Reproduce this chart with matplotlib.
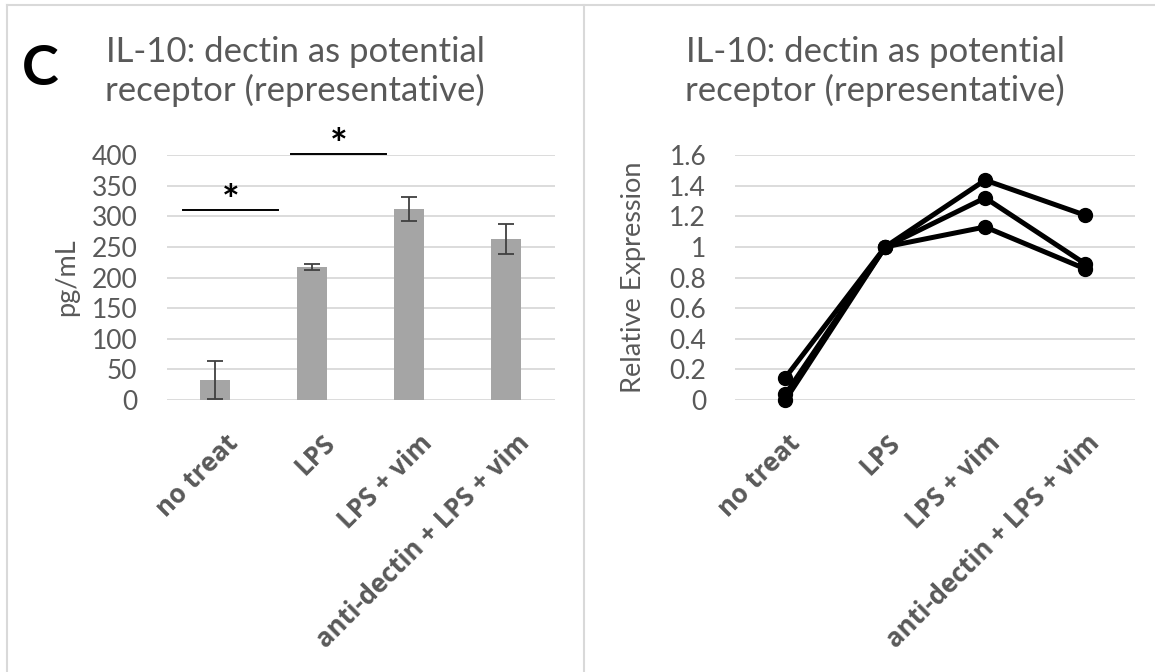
import matplotlib
matplotlib.use("Agg")
import matplotlib.pyplot as plt
import matplotlib.transforms as mtransforms
from matplotlib.lines import Line2D

# data
categories = ["no treat", "LPS", "LPS + vim", "anti-dectin + LPS + vim"]
il10_pgml = [32, 217, 312, 263]
il10_err = [31, 5, 20, 24]
sig_pairs = [(-0.33, 0.65, 311), (0.78, 1.76, 402)]   # x0, x1, y of significance bars

rel_expr_1 = [0.146, 1.0, 1.436, 1.207]
rel_expr_2 = [0.037, 1.0, 1.32, 0.89]
rel_expr_3 = [0.0, 1.0, 1.13, 0.857]

title_lines = ["IL-10: dectin as potential", "receptor (representative)"]

W, H = 1155, 672
plt.rcParams['font.family'] = ['Lato', 'DejaVu Sans']
GRAY_TXT = '#595959'
GRID = '#d9d9d9'

fig = plt.figure(figsize=(W / 100, H / 100), dpi=100)


def px_rect(x0, y0, x1, y1):
    return [x0 / W, 1 - y1 / H, (x1 - x0) / W, (y1 - y0) / H]


def style_axes(ax, ylim, yticks, ytl, ylabel, label_x, lab_dx):
    ax.set_xlim(-0.5, 3.5)
    ax.set_ylim(*ylim)
    ax.set_yticks(yticks)
    ax.set_yticklabels(ytl)
    for s in ax.spines.values():
        s.set_visible(False)
    ax.yaxis.grid(True, color=GRID, linewidth=1.3)
    ax.set_axisbelow(True)
    ax.tick_params(axis='both', length=0, colors=GRAY_TXT)
    ax.tick_params(axis='y', labelsize=19, pad=21)
    ax.tick_params(axis='x', pad=0)
    ax.set_ylabel(ylabel, fontsize=19.5, color=GRAY_TXT, va='center')
    ax.yaxis.set_label_coords(label_x, 0.5)
    ax.set_xticks(range(len(categories)))
    ax.set_xticklabels(categories, rotation=45, ha='right', va='baseline',
                       rotation_mode='anchor', fontsize=18.5, fontweight='bold',
                       family='Open Sans', color=GRAY_TXT)
    # move label ends to where the reference has them
    off = mtransforms.ScaledTranslation(lab_dx / 100, -44 / 100, fig.dpi_scale_trans)
    for lab in ax.get_xticklabels():
        lab.set_transform(lab.get_transform() + off)


# ---- left panel: bar chart
ax1 = fig.add_axes(px_rect(166.5, 155, 555, 400))
ax1.bar(range(len(categories)), il10_pgml, width=0.31, color='#a5a5a5', zorder=2)
ax1.errorbar(range(len(categories)), il10_pgml, yerr=il10_err, fmt='none',
             ecolor='#404040', elinewidth=1.3, capsize=6, capthick=1.3, zorder=3)
style_axes(ax1, (0, 400), range(0, 401, 50), [str(v) for v in range(0, 401, 50)],
           'pg/mL', -0.257, 24)
for x0, x1, y in sig_pairs:
    ax1.plot([x0, x1], [y, y], color='black', lw=1.4, clip_on=False)
    ax1.annotate('*', ((x0 + x1) / 2, y), xytext=(0, -4), textcoords='offset points',
                 ha='center', va='baseline', fontsize=30, fontweight='bold',
                 color='black', annotation_clip=False)

# ---- right panel: line chart
ax2 = fig.add_axes(px_rect(735.4, 155, 1135, 400))
for ser in (rel_expr_1, rel_expr_2, rel_expr_3):
    ax2.plot(range(len(categories)), ser, color='black', lw=3.6, marker='o',
             markersize=10, clip_on=False, zorder=3)
ticks2 = [0, 0.2, 0.4, 0.6, 0.8, 1.0, 1.2, 1.4, 1.6]
style_axes(ax2, (0, 1.6), ticks2, ['0', '0.2', '0.4', '0.6', '0.8', '1', '1.2', '1.4', '1.6'],
           'Relative Expression', -0.255, 16)

# titles
for cx in (295, 875):
    for ln, by in zip(title_lines, (62, 101)):
        fig.text(cx / W, 1 - by / H, ln, ha='center', va='baseline',
                 fontsize=25, color=GRAY_TXT)

fig.text(22 / W, 1 - 85 / H, 'C', ha='left', va='baseline', fontsize=40,
         fontweight='bold', color='black')

# panel frames
fw = 1.5
fig.add_artist(Line2D([7 / W, 1], [1 - 5 / H, 1 - 5 / H], color=GRID, lw=fw))
fig.add_artist(Line2D([7 / W, 7 / W], [0, 1 - 5 / H], color=GRID, lw=fw))
fig.add_artist(Line2D([583.5 / W, 583.5 / W], [0, 1 - 5 / H], color=GRID, lw=fw))

fig.savefig('out.png', dpi=100)
